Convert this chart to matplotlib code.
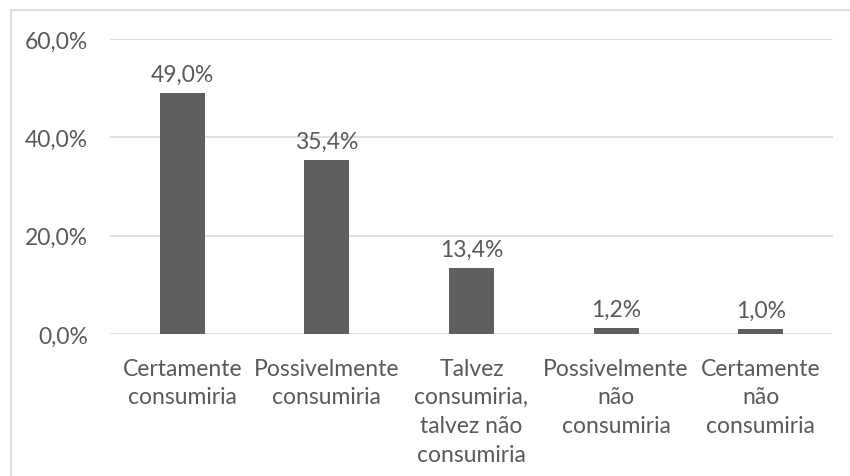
import matplotlib
matplotlib.use("Agg")
import matplotlib.pyplot as plt
from matplotlib.lines import Line2D

categories = [
    "Certamente\nconsumiria",
    "Possivelmente\nconsumiria",
    "Talvez\nconsumiria,\ntalvez não\nconsumiria",
    "Possivelmente\nnão\nconsumiria",
    "Certamente\nnão\nconsumiria",
]
values = [49.0, 35.4, 13.4, 1.2, 1.0]
yticks = [0, 20, 40, 60]
ytick_labels = ["0,0%", "20,0%", "40,0%", "60,0%"]

plt.rcParams['font.family'] = ['Lato', 'DejaVu Sans']
text_color = "#595959"
grid_color = "#d9d9d9"
fs = 16.5

fig = plt.figure(figsize=(8.5, 4.77), dpi=100)
ax = fig.add_axes([110/850, 1-335/477, (833-110)/850, (335-40)/477])

x = list(range(len(categories)))
bars = ax.bar(x, values, width=0.31, color="#5f5f5f", zorder=3)
ax.set_xlim(-0.5, len(categories)-0.5)
ax.set_ylim(0, 60)
ax.set_yticks(yticks)
ax.set_yticklabels(ytick_labels, fontsize=fs, color=text_color)
ax.set_xticks(x)
ax.set_xticklabels(categories, fontsize=fs, color=text_color, linespacing=1.45, va="top")
ax.tick_params(axis="both", length=0)
ax.tick_params(axis="y", pad=16)
ax.tick_params(axis="x", pad=17)
ax.yaxis.grid(True, color=grid_color, linewidth=1.2, zorder=0)
for s in ax.spines.values():
    s.set_visible(False)

for b, v in zip(bars, values):
    ax.annotate(f"{v:.1f}%".replace(".", ","), (b.get_x()+b.get_width()/2, v),
                xytext=(0, 6), textcoords="offset points", ha="center", va="bottom",
                fontsize=fs, color=text_color)

fig.add_artist(Line2D([10.5/850, 10.5/850], [0, 1-10.5/477], transform=fig.transFigure,
                      color=grid_color, linewidth=1.2))
fig.add_artist(Line2D([10.5/850, 1], [1-10.5/477, 1-10.5/477], transform=fig.transFigure,
                      color=grid_color, linewidth=1.2))

fig.savefig("out.png", dpi=100, facecolor="white")
